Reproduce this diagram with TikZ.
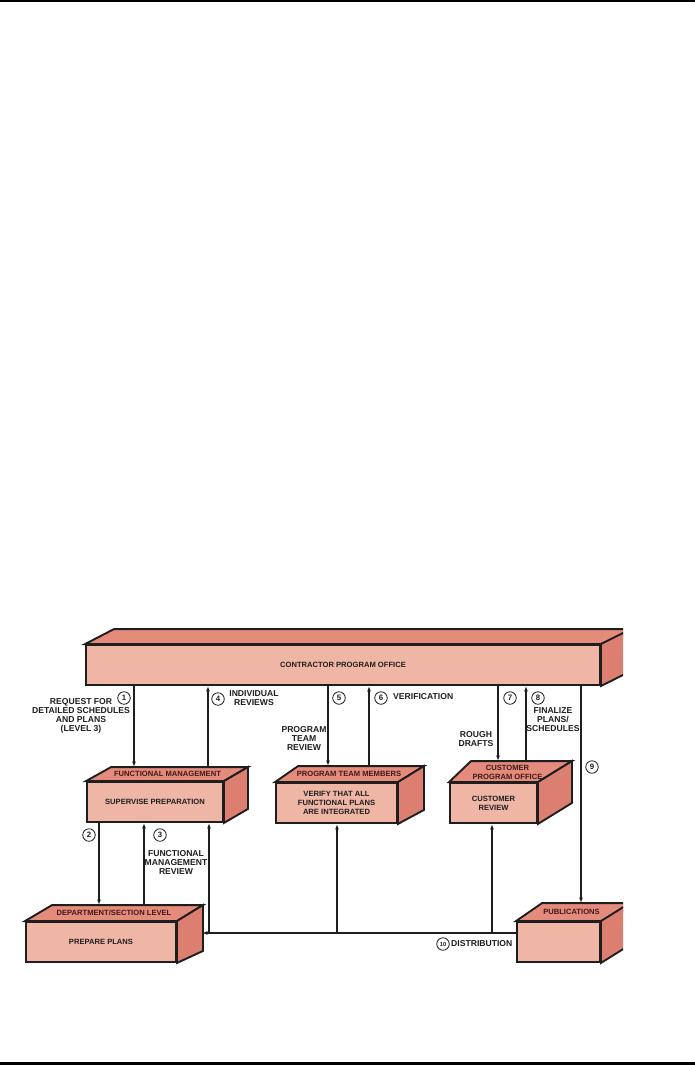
\documentclass[tikz,border=0pt]{standalone}
\usepackage{fontspec}
\setmainfont{Liberation Sans}
\usetikzlibrary{calc,arrows.meta}
\definecolor{frontc}{HTML}{EFB6A6}
\definecolor{topc}{HTML}{E48B7C}
\definecolor{sidec}{HTML}{DC7F70}
\definecolor{inkc}{HTML}{1E1E1E}
\newcommand\lblfont{\fontsize{8.6}{9}\selectfont\bfseries}
\newcommand\boxfont{\fontsize{7.6}{9}\selectfont\bfseries}
\newcommand\numfont{\fontsize{7.8}{8}\selectfont\bfseries}
\tikzset{
  face/.style={draw=inkc, line width=1.9pt, line join=miter},
  frontbox/.style={face, fill=frontc, rectangle, minimum height=40, inner sep=0, font=\boxfont, align=center, text=inkc},
  toplbl/.style={font=\boxfont, text=inkc!85!red, align=center, inner sep=0},
  lbl/.style={font=\lblfont, text=inkc, align=center, inner sep=0},
  num/.style={circle, draw=inkc, line width=0.8pt, minimum size=12.5, inner sep=0, font=\numfont, text=inkc},
  conn/.style={draw=inkc, line width=1.25pt},
  arr/.style={conn, -{Latex[length=5.5pt,width=4pt]}},
  rule/.style={line width=2.5pt, draw=black}
}
\begin{document}
\begin{tikzpicture}[x=1pt,y=-1pt]
\useasboundingbox (0,0) rectangle (695,1066);
\draw[rule] (0,1.2) -- (695,1.2);
\draw[rule] (0,1063.3) -- (695,1063.3);

\begin{scope}
\clip (0,0) rectangle (623,1066);
% ---- boxes (front faces) ----
\node[frontbox, minimum width=514] (cpo) at (343,665) {CONTRACTOR PROGRAM OFFICE};
\node[frontbox, minimum width=136] (fm) at (155,802) {SUPERVISE PREPARATION};
\node[frontbox, minimum width=121] (ptm) at (336.5,803) {VERIFY THAT ALL\\FUNCTIONAL PLANS\\ARE INTEGRATED};
\node[frontbox, minimum width=87] (cust) at (493.5,803) {CUSTOMER\\REVIEW};
\node[frontbox, minimum width=150] (dept) at (101,942) {PREPARE PLANS};
\node[frontbox, minimum width=83] (pub) at (558.5,942) {};

% ---- top and side faces ----
\draw[face, fill=topc] (cpo.north west) -- ++(29,-15) -- ($(cpo.north east)+(40,-15)$) -- (cpo.north east) -- cycle;
\draw[face, fill=sidec] (cpo.north east) -- ++(40,-20) -- ($(cpo.south east)+(40,-20)$) -- (cpo.south east) -- cycle;

\draw[face, fill=topc] (fm.north west) -- ++(25,-14) -- ($(fm.north east)+(24,-14)$) -- (fm.north east) -- cycle;
\draw[face, fill=sidec] (fm.north east) -- ++(24,-14) -- ($(fm.south east)+(24,-14)$) -- (fm.south east) -- cycle;

\draw[face, fill=topc] (ptm.north west) -- ++(23,-16) -- ($(ptm.north east)+(26,-16)$) -- (ptm.north east) -- cycle;
\draw[face, fill=sidec] (ptm.north east) -- ++(26,-16) -- ($(ptm.south east)+(26,-14)$) -- (ptm.south east) -- cycle;

\draw[face, fill=topc] (cust.north west) -- ++(22,-21) -- ($(cust.north east)+(34,-21)$) -- (cust.north east) -- cycle;
\draw[face, fill=sidec] (cust.north east) -- ++(34,-21) -- ($(cust.south east)+(34,-21)$) -- (cust.south east) -- cycle;

\draw[face, fill=topc] (dept.north west) -- ++(27,-16) -- ($(dept.north east)+(26,-16)$) -- (dept.north east) -- cycle;
\draw[face, fill=sidec] (dept.north east) -- ++(26,-16) -- ($(dept.south east)+(26,-12)$) -- (dept.south east) -- cycle;

\draw[face, fill=topc] (pub.north west) -- ++(26,-18) -- ($(pub.north east)+(40,-18)$) -- (pub.north east) -- cycle;
\draw[face, fill=sidec] (pub.north east) -- ++(40,-25) -- ($(pub.south east)+(40,-25)$) -- (pub.south east) -- cycle;

% ---- top face labels ----
\node[toplbl] (fmt) at ($(fm.north)+(12.5,-7)$) {FUNCTIONAL MANAGEMENT};
\node[toplbl] (ptmt) at ($(ptm.north)+(12.5,-8)$) {PROGRAM TEAM MEMBERS};
\node[toplbl] (custt) at ($(cust.north)+(14,-10)$) {CUSTOMER\\PROGRAM OFFICE};
\node[toplbl] (deptt) at ($(dept.north)+(13,-8)$) {DEPARTMENT/SECTION LEVEL};
\node[toplbl] (pubt) at ($(pub.north)+(13,-9)$) {PUBLICATIONS};

% ---- helper coordinates ----
\coordinate (fmback) at ($(fm.north west)+(25,-14)$);
\coordinate (ptmback) at ($(ptm.north west)+(23,-16)$);
\coordinate (custback) at ($(cust.north west)+(22,-21)$);
\coordinate (deptback) at ($(dept.north west)+(27,-16)$);
\coordinate (pubback) at ($(pub.north west)+(26,-18)$);
\coordinate (deptin) at ($(dept.east)+(25,-9)$);
\coordinate (x1) at (134,0);
\coordinate (x4) at (208,0);
\coordinate (x5) at (328,0);
\coordinate (x6) at (369,0);
\coordinate (x7) at (498,0);
\coordinate (x8) at (526,0);
\coordinate (x9) at (581,0);
\coordinate (x2) at (99,0);
\coordinate (x3) at (144,0);
\coordinate (u1) at (209,0);
\coordinate (u2) at (337,0);
\coordinate (u3) at (492,0);

% ---- connectors ----
\draw[arr] (cpo.south -| x1) -- (fmback -| x1);
\draw[arr] (fmback -| x4) -- (cpo.south -| x4);
\draw[arr] (cpo.south -| x5) -- (ptmback -| x5);
\draw[arr] (ptmback -| x6) -- (cpo.south -| x6);
\draw[arr] (cpo.south -| x7) -- (custback -| x7);
\draw[arr] (custback -| x8) -- (cpo.south -| x8);
\draw[arr] (cpo.south -| x9) -- (pubback -| x9);
\draw[arr] (fm.south -| x2) -- (deptback -| x2);
\draw[arr] (deptback -| x3) -- (fm.south -| x3);
\draw[arr] (pub.west |- deptin) -- (deptin);
\draw[arr] (deptin -| u1) -- (fm.south -| u1);
\draw[arr] (deptin -| u2) -- (ptm.south -| u2);
\draw[arr] (deptin -| u3) -- (cust.south -| u3);

% ---- numbers ----
\node[num] (n1) at (124,698) {1};
\node[num] (n4) at (218,699) {4};
\node[num] (n5) at (339,698) {5};
\node[num] (n6) at (381,698) {6};
\node[num] (n7) at (510,698) {7};
\node[num] (n8) at (538,698) {8};
\node[num] (n9) at (592,767) {9};
\node[num] (n2) at (89,835) {2};
\node[num] (n3) at (160,835) {3};
\node[num, font=\fontsize{5.8}{6}\selectfont\bfseries] (n10) at (443,944) {10};

% ---- labels ----
\node[lbl] (lreq) at (81,715.5) {REQUEST FOR\\DETAILED SCHEDULES\\AND PLANS\\(LEVEL 3)};
\node[lbl] (lind) at (254,698.5) {INDIVIDUAL\\REVIEWS};
\node[lbl] (lptr) at (304,738.5) {PROGRAM\\TEAM\\REVIEW};
\node[lbl, anchor=west] (lver) at (393,697) {VERIFICATION};
\node[lbl] (lrough) at (476,739.5) {ROUGH\\DRAFTS};
\node[lbl] (lfin) at (553,719.5) {FINALIZE\\PLANS/\\SCHEDULES};
\node[lbl] (lfmr) at (176,862) {FUNCTIONAL\\MANAGEMENT\\REVIEW};
\node[lbl, anchor=west] (ldist) at (451,944) {DISTRIBUTION};
\end{scope}
\end{tikzpicture}
\end{document}
